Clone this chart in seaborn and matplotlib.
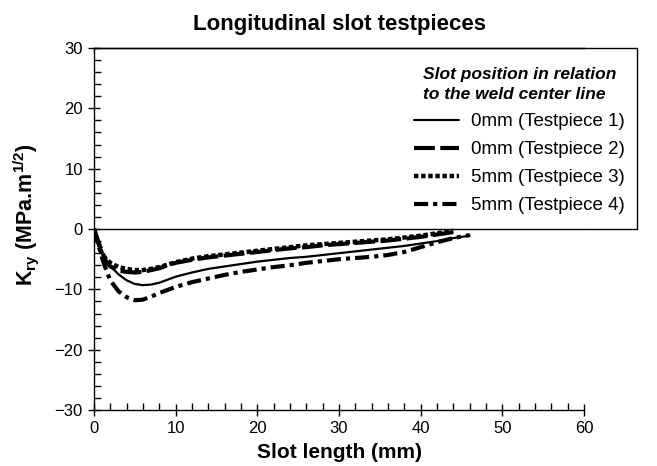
import matplotlib
matplotlib.use("Agg")
import matplotlib.pyplot as plt
import seaborn as sns
import pandas as pd

# slot length (mm) and K_ry values
x_tp1 = [0, 0.5, 1, 1.5, 2, 3, 4, 5, 6, 7, 8, 9, 10, 12, 14, 16, 18, 20, 22, 24,
         26, 28, 30, 32, 34, 36, 38, 40, 42, 44, 46]
k_tp1 = [0, -2.2, -4.0, -5.2, -6.1, -7.5, -8.5, -9.1, -9.3, -9.2, -8.9, -8.4, -7.9,
         -7.2, -6.6, -6.2, -5.8, -5.4, -5.1, -4.8, -4.6, -4.3, -4.0, -3.7, -3.4,
         -3.1, -2.8, -2.4, -2.0, -1.5, -1.1]

x_tp2 = [0, 0.5, 1, 1.5, 2, 3, 4, 5, 6, 7, 8, 9, 10, 12, 14, 16, 18, 20, 22, 24,
         26, 28, 30, 32, 34, 36, 38, 40, 42, 44]
k_tp2 = [0, -2.0, -3.8, -5.4, -6.2, -6.9, -7.1, -7.2, -7.1, -6.8, -6.5, -6.0, -5.6,
         -5.1, -4.7, -4.4, -4.1, -3.8, -3.5, -3.2, -3.0, -2.7, -2.5, -2.3, -2.1,
         -1.9, -1.6, -1.3, -0.9, -0.5]

x_tp3 = [0, 0.5, 1, 1.5, 2, 3, 4, 5, 6, 7, 8, 9, 10, 12, 14, 16, 18, 20, 22, 24,
         26, 28, 30, 32, 34, 36, 38, 40, 42, 44]
k_tp3 = [0, -2.1, -4.2, -5.0, -5.6, -6.3, -6.6, -6.8, -6.8, -6.6, -6.3, -5.9, -5.5,
         -4.9, -4.5, -4.2, -3.9, -3.6, -3.3, -3.0, -2.7, -2.5, -2.3, -2.1, -1.9,
         -1.7, -1.4, -1.1, -0.7, -0.3]

x_tp4 = [0, 0.5, 1, 1.5, 2, 3, 4, 5, 6, 7, 8, 9, 10, 12, 14, 16, 18, 20, 22, 24,
         26, 28, 30, 32, 34, 36, 38, 40, 42, 44, 46]
k_tp4 = [0, -2.5, -4.8, -6.8, -8.5, -10.3, -11.3, -11.8, -11.7, -11.2, -10.6, -10.1,
         -9.6, -8.8, -8.2, -7.6, -7.1, -6.7, -6.3, -6.0, -5.6, -5.3, -5.0, -4.8,
         -4.6, -4.3, -3.8, -3.0, -2.2, -1.5, -1.0]

labels = ["0mm (Testpiece 1)", "0mm (Testpiece 2)",
          "5mm (Testpiece 3)", "5mm (Testpiece 4)"]

sns.set_theme(style="ticks")
plt.rcParams["font.family"] = ["Liberation Sans", "DejaVu Sans"]
plt.rcParams["mathtext.fontset"] = "custom"
plt.rcParams["mathtext.rm"] = "Liberation Sans"
plt.rcParams["mathtext.bf"] = "Liberation Sans:bold"
plt.rcParams["text.color"] = "black"
plt.rcParams["axes.labelcolor"] = "black"

fig = plt.figure(figsize=(6.57, 4.66), dpi=100)
ax = fig.add_axes([0.143, 0.120, 0.746, 0.777])

series = [
    (x_tp1, k_tp1, dict(linestyle="-", linewidth=1.6)),
    (x_tp2, k_tp2, dict(linestyle=(0, (5, 1.3)), linewidth=3)),
    (x_tp3, k_tp3, dict(linestyle=(0, (1, 0.6)), linewidth=3.2)),
    (x_tp4, k_tp4, dict(linestyle=(0, (3.4, 1.2, 1, 1.2)), linewidth=3)),
]
for (xs, ks, style), lab in zip(series, labels):
    df = pd.DataFrame({"x": xs, "k": ks})
    sns.lineplot(data=df, x="x", y="k", ax=ax, color="black", label=lab,
                 errorbar=None, **style)

ax.axhline(0, color="black", linewidth=1)
ax.set_xlim(0, 60)
ax.set_ylim(-30, 30)
ax.set_xticks(range(0, 61, 10))
ax.set_yticks(range(-30, 31, 10))
ax.set_xticks(range(0, 61, 2), minor=True)
ax.set_yticks(range(-30, 31, 2), minor=True)
ax.tick_params(which="major", direction="inout", length=9, width=1, labelsize=12,
               colors="black")
ax.tick_params(which="minor", direction="in", length=5, width=1, colors="black")

ax.spines["right"].set_visible(False)
for side in ["left", "bottom", "top"]:
    ax.spines[side].set_color("black")
    ax.spines[side].set_linewidth(1)

# frame of the legend area, running past the right edge of the axes
box_r = 1.108
ax.plot([0, box_r], [1, 1], transform=ax.transAxes, color="black", lw=1, clip_on=False)
ax.plot([box_r, box_r], [1, 0.5], transform=ax.transAxes, color="black", lw=1, clip_on=False)
ax.plot([1, box_r], [0.5, 0.5], transform=ax.transAxes, color="black", lw=1, clip_on=False)

ax.set_title("Longitudinal slot testpieces", fontsize=16, fontweight="bold", pad=13)
ax.set_xlabel("Slot length (mm)", fontsize=15, fontweight="bold", labelpad=5)
ax.set_ylabel(r"K$_{\mathbf{ry}}$ (MPa.m$^{\mathbf{1/2}}$)", fontsize=15.5,
              fontweight="bold")
ax.yaxis.set_label_coords(-0.108, 0.54)

leg = ax.legend(loc="upper right", bbox_to_anchor=(1.098, 0.968), frameon=False,
                fontsize=13.5, handlelength=2.4, handletextpad=0.6, labelspacing=0.58,
                borderaxespad=0,
                title="Slot position in relation\nto the weld center line")
leg.get_title().set_fontsize(12.5)
leg.get_title().set_fontweight("bold")
leg.get_title().set_fontstyle("italic")
leg.get_title().set_linespacing(1.45)

fig.savefig("out.png", dpi=100)
